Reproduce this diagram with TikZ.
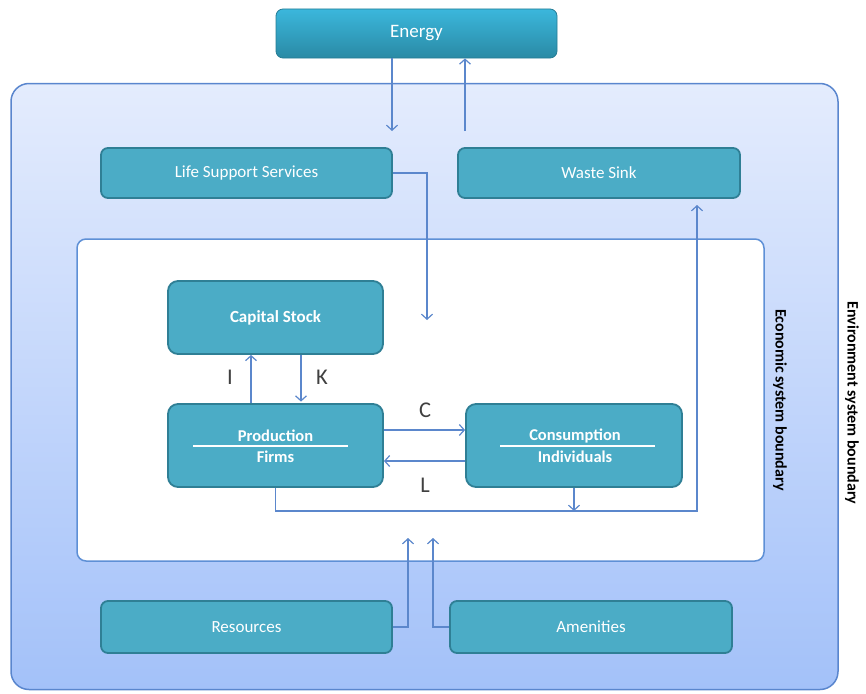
\documentclass[tikz,border=0pt]{standalone}
\usepackage{fontspec}
\setmainfont{Carlito}
\usetikzlibrary{arrows.meta}

\definecolor{aqua}{HTML}{4BACC6}
\definecolor{aquaedge}{HTML}{2F7F95}
\definecolor{flow}{HTML}{5B87CC}
\definecolor{envtop}{HTML}{E4ECFD}
\definecolor{envbottom}{HTML}{A3C1F9}
\definecolor{envedge}{HTML}{5A86CE}
\definecolor{econedge}{HTML}{5E90D6}
\definecolor{energytop}{HTML}{3BB7DC}
\definecolor{energybottom}{HTML}{2A8AA5}

\tikzset{
  panel/.style={rounded corners=7pt, fill=aqua, draw=aquaedge, line width=1.8pt,
    text=white, inner sep=0pt, font=\fontsize{17}{20}\selectfont},
  boldpanel/.style={panel, font=\bfseries\fontsize{17}{20}\selectfont},
  caption/.style={text=white, inner sep=0pt, font=\bfseries\fontsize{16.5}{19}\selectfont},
  divider/.style={white, line width=1.6pt},
  flowarrow/.style={draw=flow, line width=1.2pt,
    -{Straight Barb[length=5pt,width=11pt,line width=1.2pt]}},
  letter/.style={text=black!75, inner sep=0pt, font=\fontsize{22.5}{26}\selectfont},
  sidelabel/.style={rotate=-90, inner sep=0pt, text=black, font=\bfseries\fontsize{16}{19}\selectfont}
}

\begin{document}
\begin{tikzpicture}[x=1pt, y=-1pt]
  \useasboundingbox (0,0) rectangle (866,693);

  % environment and economy boundaries
  \node[rounded corners=18pt, top color=envtop, bottom color=envbottom, draw=envedge,
        line width=1.5pt, minimum width=827pt, minimum height=606pt, inner sep=0pt]
        (env) at (424.5,386.5) {};
  \node[rounded corners=9pt, fill=white, draw=econedge, line width=1.5pt,
        minimum width=687pt, minimum height=322pt, inner sep=0pt]
        (econ) at (420.5,400) {};

  % energy source
  \node[rounded corners=7pt, top color=energytop, bottom color=energybottom,
        draw=energybottom!90!black, line width=0.8pt, text=white, inner sep=0pt,
        minimum width=281pt, minimum height=49pt, font=\fontsize{19}{22}\selectfont]
        (energy) at (416.5,33.5) {Energy};

  % environment services
  \node[panel, minimum width=291pt, minimum height=50pt] (lss) at (246.5,173) {Life Support Services};
  \node[panel, minimum width=282pt, minimum height=50pt] (waste) at (599,173) {Waste Sink};
  \node[panel, minimum width=291pt, minimum height=52pt] (res) at (246.5,627) {Resources};
  \node[panel, minimum width=282pt, minimum height=52pt] (amen) at (591,627) {Amenities};

  % economic agents
  \node[boldpanel, rounded corners=10pt, minimum width=215pt, minimum height=73pt] (cap) at (275.5,317.5) {Capital Stock};
  \node[panel, rounded corners=10pt, minimum width=215pt, minimum height=83pt] (prod) at (275.5,445.5) {};
  \node[panel, rounded corners=10pt, minimum width=216pt, minimum height=83pt] (cons) at (574,445.5) {};

  \node[caption] (prodT) at (275.5,436) {Production};
  \node[caption] (prodB) at (275.5,457) {Firms};
  \draw[divider] (193,446) -- (348,446);
  \node[caption] (consT) at (575,436) {Consumption};
  \node[caption] (consB) at (575,457) {Individuals};
  \draw[divider] (500,446) -- (655,446);

  % helper points
  \coordinate (eIn) at (392,131);
  \coordinate (eOut) at (465,131);
  \coordinate (lssEnd) at (427,320);
  \coordinate (wasteRun) at (697,511);
  \coordinate (wasteEnd) at (697,205);
  \coordinate (resEnd) at (408,538);
  \coordinate (amenEnd) at (433,538);

  % energy exchange
  \draw[flowarrow] (energy.south -| eIn) -- (eIn);
  \draw[flowarrow] (eOut) -- (eOut |- energy.south);

  % life support into the economy
  \draw[flowarrow] (lss.east) -| (lssEnd);

  % investment and capital
  \draw[flowarrow] ([xshift=-24.5pt]prod.north) -- ([xshift=-24.5pt]cap.south);
  \draw[flowarrow] ([xshift=25.5pt]cap.south) -- ([xshift=25.5pt,yshift=1.5pt]prod.north);

  % consumption goods and labour
  \draw[flowarrow] ([yshift=15.5pt]prod.east) -- ([yshift=15.5pt]prod.east -| cons.west);
  \draw[flowarrow] ([yshift=-15.5pt]cons.west) -- ([yshift=-15.5pt]cons.west -| prod.east);

  % wastes to the sink
  \draw[flowarrow] (prod.south) |- (wasteRun) -- (wasteEnd);
  \draw[flowarrow] (cons.south) -- (cons.south |- wasteRun);

  % resources and amenities
  \draw[flowarrow] (res.east) -| (resEnd);
  \draw[flowarrow] (amen.west) -| (amenEnd);

  % flow letters
  \node[letter] (lI) at (230,377) {I};
  \node[letter] (lK) at (322,377) {K};
  \node[letter] (lC) at (425,410) {C};
  \node[letter] (lL) at (425,485) {L};

  % boundary labels
  \node[sidelabel] (econLbl) at (780,400) {Economic system boundary};
  \node[sidelabel] (envLbl) at (852,403) {Environment system boundary};
\end{tikzpicture}
\end{document}
